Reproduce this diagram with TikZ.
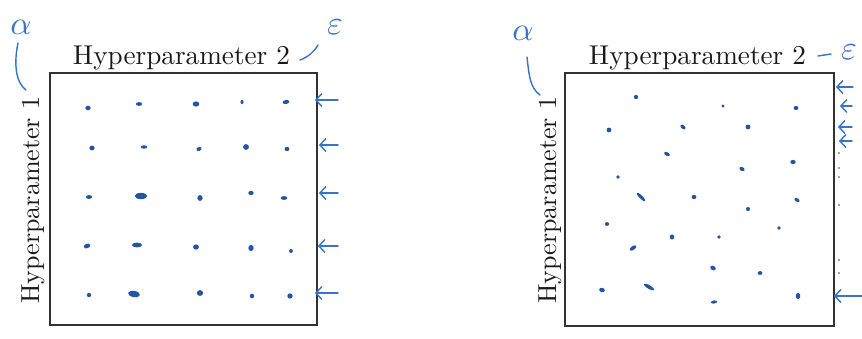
\documentclass[tikz,border=0pt]{standalone}
\usetikzlibrary{arrows.meta}
\definecolor{ink}{RGB}{55,115,200}
\definecolor{dotc}{RGB}{35,85,165}
\definecolor{frame}{RGB}{50,50,50}
\definecolor{txt}{RGB}{25,25,25}
\tikzset{
 panel/.style={draw=frame, line width=1.5pt, inner sep=0pt, minimum width=267pt, minimum height=252pt, anchor=north west},
 title/.style={text=txt, anchor=base, inner sep=0pt},
 vtitle/.style={title, rotate=90},
 hand/.style={draw=ink, line width=1.4pt, line cap=round, line join=round},
 handarrow/.style={hand, -{Straight Barb[length=6pt,width=13pt]}},
 greek/.style={text=ink, inner sep=0pt},
 pt/.style={fill=dotc},
 ptsmall/.style={fill=dotc!70},
}
\begin{document}
\begin{tikzpicture}[x=1pt,y=-1pt]
\useasboundingbox (0,0) rectangle (862,338);
\fill[white] (0,0) rectangle (862,338);

% ---------- left panel ----------
\node[panel] (boxL) at (49,72) {};
\node[title] (t2L) at (181.5,64) {\scalebox{2.72}{Hyperparameter 2}};
\node[vtitle] (t1L) at (39,200) {\scalebox{2.6}{Hyperparameter 1}};
\node[greek] (alL) at (21,27) {\scalebox{3.3}{$\alpha$}};
\node[greek] (epL) at (335,27) {\scalebox{3.4}{$\varepsilon$}};
\draw[hand] (18,43) .. controls (14,62) and (15,82) .. (26,90);
\draw[hand] (300,60) .. controls (308,57) and (314,52) .. (318,45);

% grid dots
\foreach \x/\y/\a/\b/\r in {
 88/108/2.2/1.9/0, 139/104/2.6/1.6/0, 196/104/2.8/2.2/0, 242/102/1.3/1.8/0, 286/102/2.8/1.7/10,
 92/148/2.2/2/0, 144/147/2.8/1.4/0, 199/149/2.2/1.6/20, 246/147/2.4/2.4/0, 287/149/2.0/1.8/0,
 89/197/2.6/1.6/0, 141/196/5.2/2.6/0, 200/198/2.2/2.4/0, 251/193/2.2/1.8/0, 284/198/2.8/1.6/0,
 87/246/2.8/1.9/20, 137/245/4.2/2.0/0, 196/247/2.4/2.2/0, 251/248/2.2/2.5/0, 291/251/1.6/1.7/0,
 89/295/1.8/1.8/0, 134/294/5.0/2.6/-10, 200/293/2.6/2.4/0, 252/296/1.8/2.0/0, 290/296/2.2/2.2/0}
 {\fill[pt, rotate around={\r:(\x,\y)}] (\x,\y) ellipse ({1.2*\a pt} and {1.2*\b pt});}

% arrows left
\foreach \i/\y/\t in {1/100/315, 2/145/319, 3/193/319, 4/246/318, 5/293/315}{
 \coordinate (aL\i) at (338,\y);
 \coordinate (eL\i) at (\t,\y);
 \draw[handarrow] (aL\i) -- (eL\i);
}

% ---------- right panel ----------
\node[panel, minimum width=269pt, minimum height=253pt] (boxR) at (564,72) {};
\node[title] (t2R) at (697.5,64) {\scalebox{2.72}{Hyperparameter 2}};
\node[vtitle] (t1R) at (556,200) {\scalebox{2.6}{Hyperparameter 1}};
\node[greek] (alR) at (523,33) {\scalebox{3.3}{$\alpha$}};
\node[greek, anchor=west] (epR) at (841,52) {\scalebox{3.4}{$\varepsilon$}};
\draw[hand] (527,57) .. controls (529,75) and (530,88) .. (540,95);
\draw[hand] (818,56) -- (831,54);

% random dots
\foreach \x/\y/\a/\b/\r in {
 636/97/1.8/1.8/0, 723/106/1.4/1.4/0, 796/108/2.0/1.7/0,
 609/130/2.0/2.0/0, 683/127/2.6/1.5/-40, 748/127/2.0/2.0/0,
 667/154/2.6/1.5/-30, 793/162/2.2/1.8/0, 742/169/2.4/1.6/-30,
 618/177/1.6/1.6/0, 641/197/5.0/1.3/-45, 694/197/2.0/1.8/0,
 797/200/2.4/1.5/-30, 748/209/1.7/1.7/0,
 607/224/1.8/1.6/0, 779/228/1.5/1.5/0, 672/237/1.9/2.1/0, 719/237/1.6/1.6/0,
 633/248/3.2/1.6/35, 713/268/2.4/1.8/-30, 760/273/2.0/1.6/0,
 602/290/2.4/1.8/-10, 649/287/5.0/1.5/-30, 714/302/2.6/1.3/10, 798/296/1.9/2.6/0}
 {\fill[pt, rotate around={\r:(\x,\y)}] (\x,\y) ellipse ({1.2*\a pt} and {1.2*\b pt});}

% arrows right
\foreach \i/\y/\s/\t in {1/87/853/836, 2/106/852/840, 3/127/852/838, 4/141/852/839, 5/296/862/834}{
 \coordinate (aR\i) at (\s,\y);
 \coordinate (eR\i) at (\t,\y);
 \draw[handarrow] (aR\i) -- (eR\i);
}
\foreach \y in {153,168,177,205,260,273}
 {\fill[ptsmall] (839,\y) circle (1.1pt);}
\end{tikzpicture}
\end{document}
